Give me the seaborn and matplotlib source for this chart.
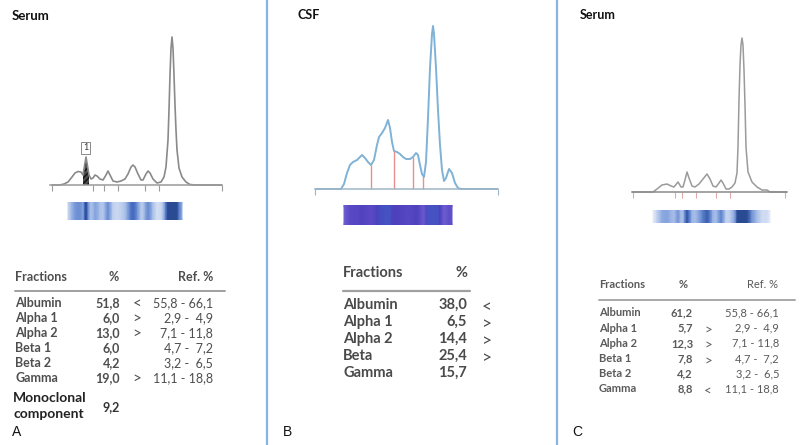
import numpy as np
import matplotlib
matplotlib.use("Agg")
import matplotlib.pyplot as plt
import seaborn as sns
from matplotlib.colors import LinearSegmentedColormap, Normalize

sns.set_theme(style="white")
plt.rcParams['font.family'] = ['Lato', 'DejaVu Sans']

# ---- densitometry traces (mobility, intensity) ----

mob_a = np.array([2, 10, 14, 18, 22, 25, 28, 31, 33, 34.5, 36, 37.5, 39, 41, 43, 45, 47, 50, 53,
                  56, 58, 60, 63, 67, 71, 75, 78, 81, 83, 85, 88, 91, 93, 96, 98, 100, 103, 107,
                  111, 114, 116, 118, 119, 120, 121, 122, 123, 124, 125, 126, 127, 129, 132, 136,
                  140, 145, 172])
int_a = np.array([0, 0, 1, 3, 8, 12, 13.5, 13, 10, 19, 28, 19, 10, 6, 7, 10, 9, 6, 5,
                  10, 14, 10, 4, 3, 4, 6, 11, 18, 20, 18, 11, 5, 5, 11, 14, 12, 6, 2,
                  3, 8, 18, 45, 75, 110, 137, 148, 137, 110, 80, 55, 35, 17, 8, 3,
                  0.5, 0, 0])
ticks_a = [2, 43, 54, 68, 95, 109, 172]
mono_a = (33, 39)  # hatched monoclonal spike

mob_b = np.array([0, 26, 29, 32, 35, 38, 42, 45, 47, 50, 53, 56, 59, 62, 64, 67, 70, 73, 75, 77,
                  79, 82, 85, 88, 91, 95, 98, 101, 103, 105, 107, 109, 111, 113, 115, 117, 118,
                  119, 121, 123, 125, 127, 129, 131, 134, 137, 140, 143, 146, 183])
int_b = np.array([0, 0, 5, 16, 24, 27, 29, 32, 34, 31, 27, 24, 29, 44, 52, 56, 61, 69, 61, 47,
                  38, 37, 35, 32, 30, 30, 32, 36, 34, 24, 15, 12, 27, 71, 121, 155, 163,
                  155, 121, 79, 44, 19, 8, 11, 20, 16, 6, 1, 0, 0])
delim_b = [56, 79, 98, 108]
delim_h_b = [24, 38, 32, 13]

mob_c = np.array([0, 21, 25, 30, 35, 39, 42, 46, 49, 51, 53, 55, 57, 60, 63, 67, 71, 75, 78, 81,
                  84, 87, 89, 91, 94, 97, 100, 103, 105, 106, 107, 108, 109, 110, 111, 112, 113,
                  114, 116, 120, 125, 130, 135, 138, 155])
int_c = np.array([0, 0, 3, 7, 8, 6, 5, 10, 5, 5, 12, 20, 14, 6, 5, 8, 13, 18, 13, 6,
                  5, 9, 12, 9, 3, 3, 5, 9, 19, 45, 92, 127, 147, 154, 147, 122, 87,
                  45, 20, 10, 5, 2, 2, 0, 0])
ticks_c = [1, 43, 50, 64, 84, 98, 153]

# ---- result tables ----

frac_a = ['Albumin', 'Alpha 1', 'Alpha 2', 'Beta 1', 'Beta 2', 'Gamma']
pct_a = [51.8, 6.0, 13.0, 6.0, 4.2, 19.0]
flag_a = ['<', '>', '>', '', '', '>']
ref_lo = [55.8, 2.9, 7.1, 4.7, 3.2, 11.1]
ref_hi = [66.1, 4.9, 11.8, 7.2, 6.5, 18.8]
mono_pct = 9.2

frac_b = ['Albumin', 'Alpha 1', 'Alpha 2', 'Beta', 'Gamma']
pct_b = [38.0, 6.5, 14.4, 25.4, 15.7]
flag_b = ['<', '>', '>', '>', '']

frac_c = ['Albumin', 'Alpha 1', 'Alpha 2', 'Beta 1', 'Beta 2', 'Gamma']
pct_c = [61.2, 5.7, 12.3, 7.8, 4.2, 8.8]
flag_c = ['', '>', '>', '>', '', '<']


def fmt(v):
    return f"{v:.1f}".replace('.', ',')


def fmt_ref(lo, hi):
    return f"{lo:.1f} - {hi:4.1f}".replace('.', ',')


W, H = 800, 445
fig = plt.figure(figsize=(8, 4.45), dpi=100)
bg = fig.add_axes([0, 0, 1, 1])
bg.set_xlim(0, W)
bg.set_ylim(H, 0)
bg.axis('off')


def px_axes(l, t, r, b):
    return fig.add_axes([l / W, 1 - b / H, (r - l) / W, (b - t) / H])


def trace_axes(rect, xmax, ylim, base_col, ticks, tick_col):
    ax = px_axes(*rect)
    ax.set_xlim(0, xmax)
    ax.set_ylim(*ylim)
    for s in ['left', 'right', 'top']:
        ax.spines[s].set_visible(False)
    ax.spines['bottom'].set_position(('data', 0))
    ax.spines['bottom'].set_color(base_col)
    ax.spines['bottom'].set_linewidth(1.1)
    ax.set_yticks([])
    ax.set_xticks(ticks)
    ax.set_xticklabels([])
    ax.tick_params(axis='x', direction='out', length=4, width=0.8, color=tick_col, bottom=True)
    ax.set_xlabel('')
    ax.set_ylabel('')
    ax.patch.set_alpha(0)
    return ax


def strip(rect, xmax, mob, inten, lo, hi, cmap, vmax):
    sa = px_axes(*rect)
    m = (mob >= lo) & (mob <= hi)
    n = m.sum()
    X = np.vstack([mob[m], mob[m]])
    Y = np.vstack([np.zeros(n), np.ones(n)])
    C = np.vstack([inten[m], inten[m]])
    sa.pcolormesh(X, Y, C, shading='gouraud', cmap=cmap, norm=Normalize(0, vmax, clip=True))
    sa.set_xlim(0, xmax)
    sa.set_ylim(0, 1)
    sa.axis('off')
    return sa


blue_cmap = LinearSegmentedColormap.from_list('band', ['#e8eef9', '#8aa8e0', '#4a70c4', '#2a4a92'])
purple_cmap = LinearSegmentedColormap.from_list('csf', ['#7466d4', '#5e4ec8', '#4c3fba', '#4552c2'])

# ---- panel A ----
ax_a = trace_axes((50, 25, 222, 193), 172, (-8, 160), '#9a9a9a', ticks_a, '#9a9a9a')
sns.lineplot(x=mob_a, y=int_a, ax=ax_a, color='#8a8a8a', linewidth=1.2, estimator=None, sort=False)
sel = (mob_a >= mono_a[0]) & (mob_a <= mono_a[1])
ax_a.fill_between(mob_a[sel], 0, int_a[sel], facecolor='#4a4a4a', edgecolor='#111111',
                  hatch='//////', linewidth=0)
ax_a.text(35.7, 37, '1', ha='center', va='center', fontsize=6.5, color='#333',
          bbox=dict(boxstyle='square,pad=0.2', fc='white', ec='#777', lw=0.6))
strip((50, 202, 222, 220), 172, mob_a, int_a, 18, 133, blue_cmap, 28)

# ---- panel B ----
ax_b = trace_axes((315, 14, 498, 197), 183, (-8, 175), '#9fb6c6', [0, 183], '#9fb6c6')
sns.lineplot(x=mob_b, y=int_b, ax=ax_b, color='#7fb2d6', linewidth=1.4, estimator=None, sort=False)
ax_b.vlines(delim_b, 0, delim_h_b, color='#e89090', linewidth=1.0)
strip((315, 205, 498, 225), 183, mob_b, int_b, 29, 138, purple_cmap, 60)

# ---- panel C ----
ax_c = trace_axes((632, 27, 787, 200), 155, (-8, 165), '#8a8a8a', ticks_c, '#e0a8a8')
sns.lineplot(x=mob_c, y=int_c, ax=ax_c, color='#9a9a9a', linewidth=1.1, estimator=None, sort=False)
strip((632, 210, 787, 223), 155, mob_c, int_c, 21, 138, blue_cmap, 22)

# ---- titles, dividers, letters ----
bg.text(12, 16, 'Serum', fontsize=9.5, fontweight='bold', color='#111', va='center')
bg.text(298, 15, 'CSF', fontsize=9, fontweight='bold', color='#111', va='center')
bg.text(580, 15, 'Serum', fontsize=9, fontweight='bold', color='#111', va='center')
bg.axvline(267, color='#86b4e4', lw=1.6)
bg.axvline(557, color='#86b4e4', lw=1.6)
for x, lab in [(12, 'A'), (283, 'B'), (572, 'C')]:
    bg.text(x, 432, lab, fontsize=10, color='#111', va='center', family='Liberation Sans')

# ---- table A ----
ca = '#4e4e4e'
fa = 9
bg.text(15, 277, 'Fractions', fontsize=fa, fontweight='bold', color=ca, va='center')
bg.text(119, 277, '%', fontsize=fa, fontweight='bold', color=ca, va='center', ha='right')
bg.text(213, 277, 'Ref. %', fontsize=fa, fontweight='bold', color=ca, va='center', ha='right')
bg.plot([15, 225], [291, 291], color='#a0a0a0', lw=1.4)
for i in range(len(frac_a)):
    y = 303 + 15 * i
    bg.text(15, y, frac_a[i], fontsize=fa, fontweight='bold', color=ca, va='center')
    bg.text(120, y, fmt(pct_a[i]), fontsize=fa, fontweight='bold', color=ca, va='center', ha='right')
    bg.text(137, y + 1, flag_a[i], fontsize=fa + 2, color=ca, va='center', ha='center')
    bg.text(213, y, fmt_ref(ref_lo[i], ref_hi[i]), fontsize=fa, color=ca, va='center', ha='right')
bg.text(13, 398, 'Monoclonal', fontsize=10, fontweight='bold', color='#222', va='center')
bg.text(13, 414, 'component', fontsize=10, fontweight='bold', color='#222', va='center')
bg.text(120, 407, fmt(mono_pct), fontsize=fa, fontweight='bold', color='#333', va='center', ha='right')

# ---- table B ----
cb = '#4a4a4a'
fb = 10.5
bg.text(343, 273, 'Fractions', fontsize=fb, fontweight='bold', color=cb, va='center')
bg.text(467, 273, '%', fontsize=fb, fontweight='bold', color=cb, va='center', ha='right')
bg.plot([343, 470], [291, 291], color='#a0a0a0', lw=1.6)
for i in range(len(frac_b)):
    y = 305 + 17 * i
    bg.text(343, y, frac_b[i], fontsize=fb, fontweight='bold', color=cb, va='center')
    bg.text(467, y, fmt(pct_b[i]), fontsize=fb, fontweight='bold', color=cb, va='center', ha='right')
    bg.text(487, y + 2, flag_b[i], fontsize=fb + 2, color=cb, va='center', ha='center')

# ---- table C ----
cc = '#5a5a5a'
fc = 8
bg.text(599, 285, 'Fractions', fontsize=fc, fontweight='bold', color=cc, va='center')
bg.text(683, 285, '%', fontsize=fc, fontweight='bold', color=cc, va='center', ha='center')
bg.text(778, 285, 'Ref. %', fontsize=fc, color=cc, va='center', ha='right')
bg.plot([599, 795], [300, 300], color='#a8a8a8', lw=1.4)
for i in range(len(frac_c)):
    y = 313 + 15.2 * i
    bg.text(599, y, frac_c[i], fontsize=fc, fontweight='bold', color=cc, va='center')
    bg.text(693, y, fmt(pct_c[i]), fontsize=fc, fontweight='bold', color=cc, va='center', ha='right')
    bg.text(708, y + 1.5, flag_c[i], fontsize=fc + 1.5, color=cc, va='center', ha='center')
    bg.text(779, y, fmt_ref(ref_lo[i], ref_hi[i]), fontsize=fc, color=cc, va='center', ha='right')

fig.savefig('out.png', dpi=100)
